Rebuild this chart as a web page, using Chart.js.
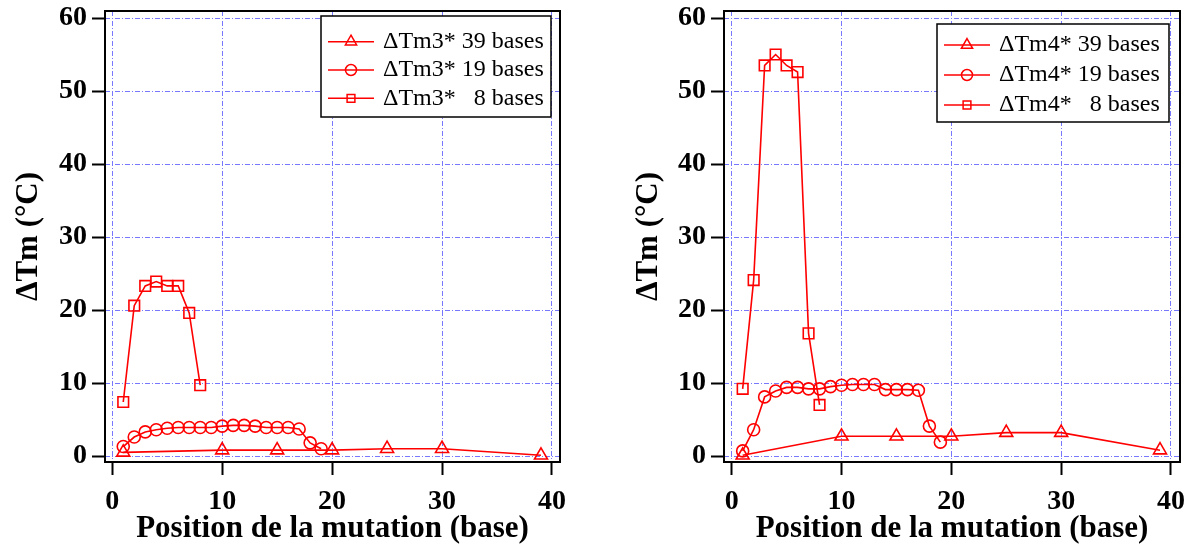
<!DOCTYPE html>
<html lang="fr">
<head>
<meta charset="utf-8">
<title>ΔTm en fonction de la position de la mutation</title>
<script src="https://cdn.jsdelivr.net/npm/chart.js@4/dist/chart.umd.min.js"></script>
<style>
  html, body { margin: 0; padding: 0; background: #fff; }
  #wrap { position: relative; width: 1195px; height: 551px; }
  #wrap canvas { position: absolute; top: 0; }
  #graphGauche { left: 0; }
  #graphDroite { left: 597px; }
</style>
</head>
<body>
<div id="wrap">
  <canvas id="graphGauche" width="597" height="551"></canvas>
  <canvas id="graphDroite" width="598" height="551"></canvas>
</div>
<script>
// ================== DONNÉES ==================

// Positions de la mutation (base) pour chaque longueur de sonde
const pos39 = [1, 10, 15, 20, 25, 30, 39];
const pos19 = [1, 2, 3, 4, 5, 6, 7, 8, 9, 10, 11, 12, 13, 14, 15, 16, 17, 18, 19];
const pos8 = [1, 2, 3, 4, 5, 6, 7, 8];

// ΔTm3* (°C) – graphique de gauche
const tm3_39 = [0.5, 0.8, 0.8, 0.8, 1.0, 1.0, 0.1];
const tm3_19 = [1.3, 2.6, 3.3, 3.6, 3.8, 3.9, 3.9, 3.9, 3.9, 4.1, 4.2, 4.2, 4.1, 3.9, 3.9, 3.9, 3.7, 1.8, 1.0];
const tm3_8 = [7.4, 20.6, 23.3, 23.9, 23.3, 23.3, 19.6, 9.7];

// ΔTm4* (°C) – graphique de droite
const tm4_39 = [0.1, 2.7, 2.7, 2.7, 3.2, 3.2, 0.8];
const tm4_19 = [0.7, 3.6, 8.1, 8.9, 9.4, 9.4, 9.2, 9.2, 9.5, 9.7, 9.8, 9.8, 9.8, 9.1, 9.1, 9.1, 9.0, 4.1, 1.9];
const tm4_8 = [9.2, 24.1, 53.5, 55.0, 53.5, 52.6, 16.8, 7.0];

// Légendes
const labels3 = ["ΔTm3* 39 bases", "ΔTm3* 19 bases", "ΔTm3*   8 bases"];
const labels4 = ["ΔTm4* 39 bases", "ΔTm4* 19 bases", "ΔTm4*   8 bases"];

// Graduations
const xTicks = [0, 10, 20, 30, 40];
const yTicks = [0, 10, 20, 30, 40, 50, 60];

// ================== STYLE ==================

const ROUGE = "#ff0000";
const BLEU_GRILLE = "#7878ff";
const SERIF = '"Liberation Serif", "Times New Roman", serif';
const FONT_LEGENDE = "24px " + SERIF;

// Transforme deux listes en points {x, y}
function points(xs, ys) {
  return xs.map((x, i) => ({ x, y: ys[i] }));
}

// Une série rouge avec marqueurs creux
function serie(label, xs, ys, style, rayon) {
  return {
    label,
    data: points(xs, ys),
    borderColor: ROUGE,
    borderWidth: 1.6,
    pointStyle: style,
    pointRadius: rayon,
    pointBorderColor: ROUGE,
    pointBackgroundColor: "rgba(0,0,0,0)",
    pointBorderWidth: 1.6,
    tension: 0
  };
}

// Cadre noir autour de la zone de tracé + légende encadrée
const cadreEtLegende = {
  id: "cadreEtLegende",
  afterDatasetsDraw(chart, args, opts) {
    const { ctx, chartArea: a } = chart;
    ctx.save();
    ctx.strokeStyle = "#000";
    ctx.lineWidth = 2;
    ctx.strokeRect(a.left, a.top, a.right - a.left, a.bottom - a.top);

    // Légende
    const bx = a.right - opts.right - opts.width;
    const by = a.top + opts.top;
    ctx.fillStyle = "#fff";
    ctx.fillRect(bx, by, opts.width, opts.height);
    ctx.lineWidth = 1.5;
    ctx.strokeRect(bx, by, opts.width, opts.height);
    ctx.font = FONT_LEGENDE;
    ctx.textBaseline = "middle";
    ctx.textAlign = "left";
    chart.data.datasets.forEach((ds, i) => {
      const y = by + opts.firstRow + i * opts.rowGap;
      ctx.strokeStyle = ROUGE;
      ctx.lineWidth = 1.5;
      ctx.beginPath();
      ctx.moveTo(bx + 7, y);
      ctx.lineTo(bx + 53, y);
      ctx.stroke();
      ctx.fillStyle = "rgba(0,0,0,0)";
      const r = ds.pointStyle === "triangle" ? 6.5 : 5.5;
      Chart.helpers.drawPoint(ctx, { pointStyle: ds.pointStyle, radius: r, borderWidth: 1.5 }, bx + 30, y);
      ctx.fillStyle = "#000";
      ctx.fillText(ds.label, bx + 62, y);
    });
    ctx.restore();
  }
};

// Options d'axes communes
function echelles(c) {
  const grille = {
    color: BLEU_GRILLE,
    lineWidth: 1,
    drawTicks: true,
    tickLength: 13,
    tickColor: "#000",
    tickWidth: 2,
    tickBorderDash: []
  };
  return {
    x: {
      type: "linear",
      min: c.xMin,
      max: c.xMax,
      afterBuildTicks: s => { s.ticks = xTicks.map(v => ({ value: v })); },
      afterFit: s => { s.height = 89; s.paddingLeft = 0; s.paddingRight = 0; },
      grid: grille,
      border: { display: false, dash: [5, 2, 1, 2] },
      ticks: {
        color: "#000",
        font: { family: SERIF, size: 28, weight: "bold" },
        padding: 10,
        maxRotation: 0,
        autoSkip: false
      },
      title: {
        display: true,
        text: "Position de la mutation (base)",
        color: "#000",
        font: { family: SERIF, size: 31, weight: "bold" },
        padding: { top: 0, bottom: 3 }
      }
    },
    y: {
      type: "linear",
      min: -0.82,
      max: 60.96,
      afterBuildTicks: s => { s.ticks = yTicks.map(v => ({ value: v })); },
      afterFit: s => { s.width = c.yWidth; s.paddingTop = 0; s.paddingBottom = 0; },
      grid: grille,
      border: { display: false, dash: [5, 2, 1, 2] },
      ticks: {
        color: "#000",
        font: { family: SERIF, size: 28, weight: "bold" },
        padding: 5,
        autoSkip: false
      },
      title: {
        display: true,
        text: "ΔTm (°C)",
        color: "#000",
        font: { family: SERIF, size: 31, weight: "bold" },
        padding: { top: c.titrePad, bottom: 0 }
      }
    }
  };
}

function creerGraphique(id, labels, s39, s19, s8, c) {
  return new Chart(document.getElementById(id), {
    type: "line",
    data: {
      datasets: [
        serie(labels[0], pos39, s39, "triangle", 7.5),
        serie(labels[1], pos19, s19, "circle", 6),
        serie(labels[2], pos8, s8, "rect", 7.5)
      ]
    },
    options: {
      responsive: false,
      animation: false,
      devicePixelRatio: 1,
      layout: { padding: { top: 11, right: c.padRight, bottom: 0, left: 0 } },
      scales: echelles(c),
      plugins: {
        legend: { display: false },
        tooltip: { enabled: false },
        cadreEtLegende: c.legende
      }
    },
    plugins: [cadreEtLegende]
  });
}

// ================== GRAPHIQUES ==================

creerGraphique("graphGauche", labels3, tm3_39, tm3_19, tm3_8, {
  xMin: -0.66, xMax: 40.73, yWidth: 105, padRight: 37, titrePad: 10,
  legende: { right: 9, top: 5, width: 230, height: 101, firstRow: 25.7, rowGap: 28.3 }
});

creerGraphique("graphDroite", labels4, tm4_39, tm4_19, tm4_8, {
  xMin: -0.70, xMax: 40.82, yWidth: 127, padRight: 15, titrePad: 33,
  legende: { right: 11, top: 13, width: 232, height: 98, firstRow: 21, rowGap: 30 }
});
</script>
</body>
</html>
